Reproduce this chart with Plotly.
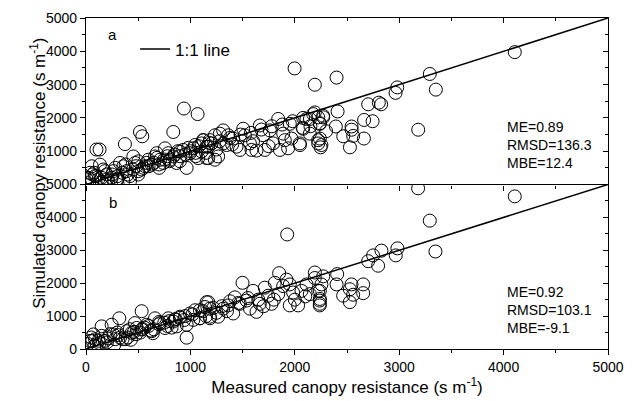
import plotly.graph_objects as go

# ---------------- data ----------------
# Panel a: measured vs simulated canopy resistance (s m-1)
meas_a = [100, 130, 373, 517, 539, 836, 938, 1069, 1998, 2192, 2400, 4107, 3293, 3351,
          2981, 2965, 3182, 2703, 2805, 2827, 2745, 2664, 2410, 2393, 2464, 2528, 2544,
          2544, 2559, 2662, 2192, 2240, 2240, 2224, 2247, 2145, 2075, 2049, 2272,
          55, 134, 39, 87, 166, 198, 262, 246, 326, 358, 390, 422, 453, 469, 501, 533,
          565, 597, 629, 661, 677, 709, 741, 757, 788, 804, 836, 868, 900, 932, 964, 996,
          1028, 1044, 1075, 1107, 1123, 1155, 1171, 1187, 7, 118, 214, 294, 358, 422,
          20, 60, 100, 150, 200, 250, 300, 350, 400, 450, 500, 550, 600, 650, 700, 750,
          800, 850, 900, 950, 1000, 1050,
          1123, 1107, 1155, 1235, 1266, 1203, 1314, 1362, 1346, 1410, 1442, 1506, 1522,
          1570, 1585, 1633, 1665, 1697, 1713, 1761, 1793, 1841, 1857, 1889, 1904, 1936,
          1952, 1968, 2048, 2080, 2112, 2144, 2176, 2224, 2239, 2255, 2271, 2224, 1314,
          1474, 1282, 1235, 1171,
          80, 180, 280, 380, 480, 580, 680, 780, 880, 980, 1080, 1180, 1280, 1380, 1480,
          1580, 1680, 1780, 1880, 1980, 2080, 2150, 2300, 1750, 1600, 1400, 1250, 1150,
          1050, 900, 700, 500, 300, 150, 60]
sim_a = [1050, 1050, 1213, 1577, 1448, 1577, 2282, 2114, 3486, 2996, 3211, 3975, 3319, 2849,
         2916, 2751, 1645, 2408, 2458, 2408, 1900, 1938, 2194, 1742, 1448, 1116, 1742,
         1645, 1460, 1380, 2164, 1841, 1380, 1233, 1116, 1968, 1703, 1184, 2018,
         548, 597, 352, 254, 450, 303, 401, 205, 646, 548, 401, 254, 842, 646, 695, 450,
         548, 744, 597, 842, 940, 744, 646, 1087, 940, 744, 842, 646, 989, 1038, 499, 940,
         1087, 1185, 793, 1234, 1331, 1136, 793, 1331, 157, 157, 108, 157, 108, 108,
         200, 300, 250, 200, 150, 300, 250, 350, 300, 450, 400, 500, 550, 650, 600, 750,
         700, 900, 850, 900, 1000, 950,
         1331, 989, 793, 744, 842, 1234, 1625, 1478, 1185, 1380, 1136, 1674, 1478,
         1234, 1038, 1018, 1772, 1478, 1038, 1625, 1234, 1968, 1038, 1527, 1331, 1087,
         1821, 1380, 1234, 1674, 1968, 1527, 2114, 1331, 1821, 1185, 2065, 2016, 1234,
         1038, 1527, 1478, 1136,
         350, 400, 500, 600, 550, 650, 800, 850, 1000, 1100, 1150, 1250, 1300, 1400, 1500,
         1550, 1650, 1750, 1800, 1900, 2000, 1750, 1600, 1150, 1300, 1200, 1050, 950,
         850, 700, 500, 300, 150, 80, 120]

# Panel b
meas_b = [533, 319, 150, 246, 469, 71, 87, 39, 103, 182, 262, 326, 390, 437, 485, 533, 581,
          629, 661, 709, 757, 788, 836, 868, 900, 964, 964, 996, 1044, 1091, 1139, 1171,
          1187, 1091, 1028,
          20, 50, 80, 120, 150, 200, 230, 280, 300, 350, 400, 420, 480, 520, 560, 600, 650,
          700, 750, 800, 850, 900, 950,
          1927, 1499, 1850, 2192, 1155, 1091, 1187, 1266, 1314, 1362, 1410, 1426, 1474,
          1538, 1570, 1601, 1633, 1665, 1713, 1745, 1777, 1809, 1841, 1889, 1920, 1952,
          1984, 2032, 2064, 2112, 2144, 2192, 2224, 2239, 2255, 2239, 1187, 1952,
          3181, 3293, 2830, 2983, 2967, 2750, 2703, 2798, 3347, 2406, 2272, 2400, 2543,
          2527, 2559, 2463, 2527, 2655, 2655, 2240, 2240, 2240, 4107,
          60, 130, 210, 310, 380, 460, 540, 620, 700, 780, 860, 940, 1020, 1120, 1220,
          1300, 1380, 1460, 1550, 1650, 1700, 1800, 2000, 2100, 1250, 1350, 1150, 820,
          640, 430, 270]
sim_b = [1149, 933, 688, 737, 786, 443, 296, 247, 149, 247, 443, 345, 541, 492, 639, 590, 737,
         541, 933, 786, 639, 933, 835, 688, 982, 737, 345, 1080, 1178, 1178, 1276, 1423,
         933, 933, 884,
         150, 350, 100, 250, 400, 200, 450, 300, 500, 300, 350, 600, 450, 500, 650, 700, 600,
         750, 800, 850, 900, 950, 1000,
         3481, 2011, 2305, 2325, 1423, 933, 982, 982, 1227, 1325, 1080, 1570, 1374,
         1472, 1227, 1766, 1129, 1374, 1864, 1619, 1374, 2011, 1668, 1913, 2109, 1325,
         1717, 1325, 1766, 1962, 1668, 2158, 1766, 1472, 1962, 1325, 1227, 1962,
         4883, 3901, 2990, 3059, 2845, 2845, 2669, 2531, 2963, 2277, 2208, 1963, 1963,
         1816, 1649, 1620, 1424, 1963, 1698, 1767, 1522, 1375, 4638,
         250, 180, 320, 420, 300, 520, 610, 560, 820, 700, 900, 880, 1050, 1150, 1250,
         1300, 1450, 1400, 1550, 1500, 1300, 1500, 1500, 1600, 1100, 1150, 1000, 650,
         480, 280, 120]

one_to_one = [0, 5000]
stats_a = ["ME=0.89", "RMSD=136.3", "MBE=12.4"]
stats_b = ["ME=0.92", "RMSD=103.1", "MBE=-9.1"]
y_ticks_a = [1000, 2000, 3000, 4000, 5000]
y_ticks_b = [0, 1000, 2000, 3000, 4000, 5000]
x_ticks = [0, 1000, 2000, 3000, 4000, 5000]

FONT = "Liberation Sans, Arial, sans-serif"
marker = dict(symbol="circle-open", size=13, color="black", line=dict(width=1, color="black"))

fig = go.Figure()
# panel a
fig.add_trace(go.Scatter(x=meas_a, y=sim_a, mode="markers", marker=marker,
                         xaxis="x2", yaxis="y2", showlegend=False))
fig.add_trace(go.Scatter(x=one_to_one, y=one_to_one, mode="lines", name="1:1 line",
                         line=dict(color="black", width=1.5), xaxis="x2", yaxis="y2",
                         showlegend=True))
# panel b
fig.add_trace(go.Scatter(x=meas_b, y=sim_b, mode="markers", marker=marker,
                         xaxis="x", yaxis="y", showlegend=False))
fig.add_trace(go.Scatter(x=one_to_one, y=one_to_one, mode="lines",
                         line=dict(color="black", width=1.5), xaxis="x", yaxis="y",
                         showlegend=False))
# empty traces so the mirrored (inside-tick) axes are drawn
for xa, ya in [("x3", "y2"), ("x2", "y3"), ("x", "y4")]:
    fig.add_trace(go.Scatter(x=[None], y=[None], xaxis=xa, yaxis=ya,
                             showlegend=False, hoverinfo="skip"))

common = dict(range=[0, 5000], showline=True, linecolor="black", linewidth=1.2,
              showgrid=False, zeroline=False, ticklen=5, tickwidth=1, tickcolor="black",
              tickfont=dict(family=FONT, size=14, color="black"))
minor_out = dict(ticks="outside", dtick=500, ticklen=3, tickcolor="black", tickwidth=1)
minor_in = dict(ticks="inside", dtick=500, ticklen=3, tickcolor="black", tickwidth=1)

DOM_B = [0, 0.497]
DOM_A = [0.497, 1]

fig.update_layout(
    width=635, height=401,
    margin=dict(l=86, r=27, t=10, b=49),
    plot_bgcolor="white", paper_bgcolor="white",
    font=dict(family=FONT, size=14, color="black"),
    xaxis=dict(**common, domain=[0, 1], anchor="y", ticks="outside", tickvals=x_ticks,
               minor=minor_out,
               title=dict(text="Measured canopy resistance (s m<sup>-1</sup>)",
                          font=dict(family=FONT, size=17), standoff=4)),
    yaxis=dict(**common, domain=DOM_B, anchor="x", ticks="outside", tickvals=y_ticks_b,
               minor=minor_out),
    xaxis2=dict(**common, domain=[0, 1], anchor="y2", ticks="outside", tickvals=x_ticks,
                showticklabels=False, minor=minor_out),
    yaxis2=dict(**common, domain=DOM_A, anchor="x2", ticks="outside", tickvals=y_ticks_a,
                minor=minor_out),
    xaxis3=dict(**common, overlaying="x2", anchor="y2", side="top", ticks="inside",
                tickvals=x_ticks, showticklabels=False, minor=minor_in),
    yaxis3=dict(**common, overlaying="y2", anchor="x2", side="right", ticks="inside",
                tickvals=y_ticks_b, showticklabels=False, minor=minor_in),
    yaxis4=dict(**common, overlaying="y", anchor="x", side="right", ticks="inside",
                tickvals=y_ticks_b, showticklabels=False, minor=minor_in),
    legend=dict(x=0.094, y=0.905, xanchor="left", yanchor="middle",
                bgcolor="rgba(0,0,0,0)", font=dict(family=FONT, size=17)),
    showlegend=True,
)

fig.add_annotation(text="Simulated canopy resistance (s m<sup>-1</sup>)", xref="paper",
                   yref="paper", x=-0.117, y=0.532, textangle=-90, showarrow=False,
                   font=dict(family=FONT, size=17))
fig.add_annotation(text="a", xref="x2", yref="y2", x=258, y=4500, showarrow=False,
                   font=dict(family=FONT, size=15))
fig.add_annotation(text="b", xref="x", yref="y", x=258, y=4460, showarrow=False,
                   font=dict(family=FONT, size=15))
fig.add_annotation(text="<br>".join(stats_a), xref="x2", yref="y2", x=4011, y=1200,
                   xanchor="left", align="left", showarrow=False,
                   font=dict(family=FONT, size=14))
fig.add_annotation(text="<br>".join(stats_b), xref="x", yref="y", x=4011, y=1190,
                   xanchor="left", align="left", showarrow=False,
                   font=dict(family=FONT, size=14))

fig.write_html("out.html")
